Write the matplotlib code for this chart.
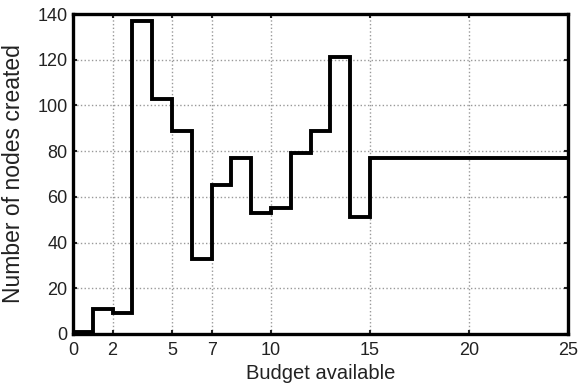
import matplotlib
matplotlib.use("Agg")
import matplotlib.pyplot as plt

plt.rcParams['font.family'] = ['Liberation Sans', 'DejaVu Sans']

budget = [0, 1, 2, 3, 4, 5, 6, 7, 8, 9, 10, 11, 12, 13, 14, 15, 25]
nodes = [1, 11, 9, 137, 103, 89, 33, 65, 77, 53, 55, 79, 89, 121, 51, 77, 77]
xticks = [0, 2, 5, 7, 10, 15, 20, 25]
yticks = [0, 20, 40, 60, 80, 100, 120, 140]

fig = plt.figure(figsize=(5.84, 3.90), dpi=100)
ax = fig.add_axes([0.125, 0.1436, 0.8476, 0.8205])

ax.step(budget, nodes, where='post', color='black', linewidth=2.8, solid_joinstyle='miter', zorder=3)

ax.set_xlim(0, 25)
ax.set_ylim(0, 140)
ax.set_xticks(xticks)
ax.set_yticks(yticks)
ax.grid(True, color='#999999', linestyle=':', linewidth=1.0)
ax.tick_params(direction='in', length=3, width=1.5, top=True, right=True,
               labelsize=13, colors='#222222')
ax.tick_params(axis='x', pad=6)
ax.tick_params(axis='y', pad=4)
for s in ax.spines.values():
    s.set_linewidth(2.4)
    s.set_color('black')

ax.set_xlabel('Budget available', fontsize=14.5, color='#222222')
ax.set_ylabel('Number of nodes created', fontsize=16.5, color='#222222')
ax.xaxis.set_label_coords(0.5, -0.095)
ax.yaxis.set_label_coords(-0.097, 0.5)

fig.savefig('out.png', dpi=100)
